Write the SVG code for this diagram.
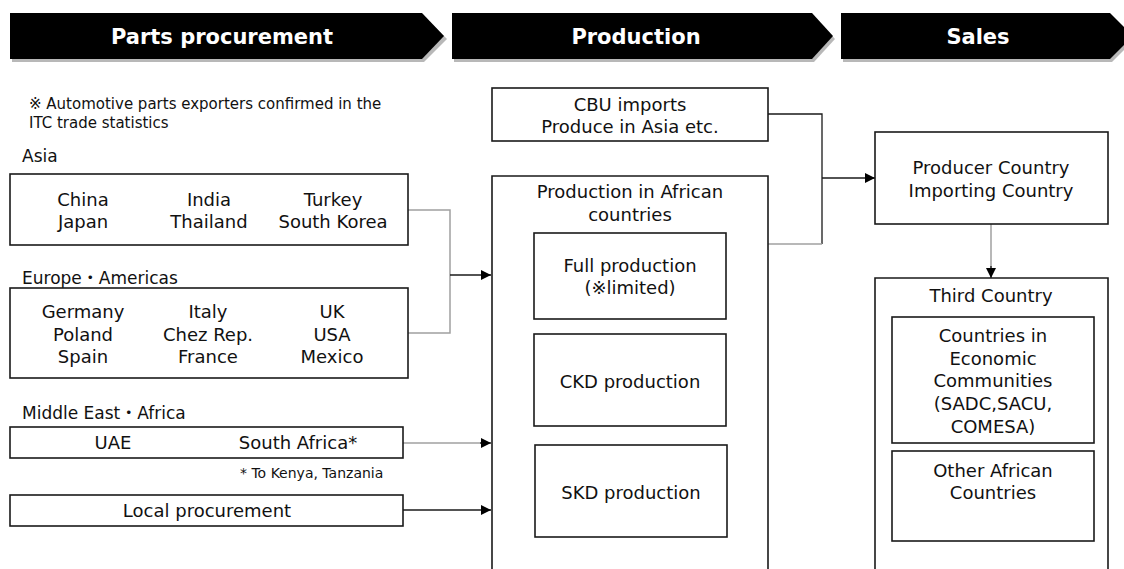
<svg xmlns="http://www.w3.org/2000/svg" width="1124" height="569" viewBox="0 0 1124 569">
  <style>
    .band { fill: #000; }
    .band-shadow { fill: #9a9a9a; opacity: 0.7; }
    .band-text { font-family: "DejaVu Sans", "Noto Sans CJK JP", sans-serif; font-weight: bold; font-size: 21px; fill: #fff; text-anchor: middle; }
    .box { fill: #fff; stroke: #1a1a1a; stroke-width: 1.6; }
    .t { font-family: "DejaVu Sans", "Noto Sans CJK JP", sans-serif; font-size: 18px; fill: #111; text-anchor: middle; }
    .lbl { font-family: "DejaVu Sans", "Noto Sans CJK JP", sans-serif; font-size: 17px; fill: #111; }
    .note { font-family: "DejaVu Sans", "Noto Sans CJK JP", sans-serif; font-size: 15px; fill: #111; }
    .small { font-family: "DejaVu Sans", "Noto Sans CJK JP", sans-serif; font-size: 14px; fill: #111; }
    .wire-gray { fill: none; stroke: #a0a0a0; stroke-width: 1.5; }
    .wire-dark { fill: none; stroke: #1a1a1a; stroke-width: 1.3; }
  </style>
  <defs>
    <marker id="head" viewBox="0 0 10 10" refX="10" refY="5" markerWidth="10" markerHeight="10" markerUnits="userSpaceOnUse" orient="auto">
      <path d="M0,0 L10,5 L0,10 Z" fill="#000"/>
    </marker>
  </defs>

  <rect width="1124" height="569" fill="#fff"/>

  <!-- stage banners -->
  <g id="band-parts">
    <polygon class="band-shadow" points="12,16 424,16 447,39 424,62 12,62"/>
    <polygon class="band" points="10,13 422,13 444,36 422,59 10,59"/>
    <text class="band-text" x="222" y="44">Parts procurement</text>
  </g>
  <g id="band-production">
    <polygon class="band-shadow" points="454,16 814,16 835,39 814,62 454,62"/>
    <polygon class="band" points="452,13 812,13 833,36 812,59 452,59"/>
    <text class="band-text" x="636" y="44">Production</text>
  </g>
  <g id="band-sales">
    <polygon class="band-shadow" points="843,16 1112,16 1135,39 1112,62 843,62"/>
    <polygon class="band" points="841,13 1110,13 1133,36 1110,59 841,59"/>
    <text class="band-text" x="978" y="44">Sales</text>
  </g>

  <!-- note -->
  <g id="note">
    <text class="note" x="29" y="109">※ Automotive parts exporters confirmed in the</text>
    <text class="note" x="29" y="128">ITC trade statistics</text>
  </g>

  <!-- connectors -->
  <g id="connectors">
    <path class="wire-gray" d="M408,210 H450 V333 H408"/>
    <path class="wire-dark" d="M450,275 H491" marker-end="url(#head)"/>
    <path class="wire-gray" d="M403,443 H482"/>
    <path class="wire-dark" d="M480,443 H491" marker-end="url(#head)"/>
    <path class="wire-dark" d="M403,510 H491" marker-end="url(#head)"/>
    <path class="wire-dark" d="M768,114 H822 V244"/>
    <path class="wire-gray" d="M768,244 H822"/>
    <path class="wire-dark" d="M822,178 H875" marker-end="url(#head)"/>
    <path class="wire-gray" d="M991,224 V270"/>
    <path class="wire-dark" d="M991,266 V278" marker-end="url(#head)"/>
  </g>

  <!-- Asia -->
  <g id="asia">
    <text class="lbl" x="22" y="162">Asia</text>
    <rect class="box" x="10" y="174" width="398" height="71"/>
    <text class="t" x="83" y="206">China</text>
    <text class="t" x="83" y="228">Japan</text>
    <text class="t" x="209" y="206">India</text>
    <text class="t" x="209" y="228">Thailand</text>
    <text class="t" x="333" y="206">Turkey</text>
    <text class="t" x="333" y="228">South Korea</text>
  </g>

  <!-- Europe / Americas -->
  <g id="europe-americas">
    <text class="lbl" x="22" y="284">Europe・Americas</text>
    <rect class="box" x="10" y="288" width="398" height="90"/>
    <text class="t" x="83" y="318">Germany</text>
    <text class="t" x="83" y="341">Poland</text>
    <text class="t" x="83" y="363">Spain</text>
    <text class="t" x="208" y="318">Italy</text>
    <text class="t" x="208" y="341">Chez Rep.</text>
    <text class="t" x="208" y="363">France</text>
    <text class="t" x="332" y="318">UK</text>
    <text class="t" x="332" y="341">USA</text>
    <text class="t" x="332" y="363">Mexico</text>
  </g>

  <!-- Middle East / Africa -->
  <g id="middle-east-africa">
    <text class="lbl" x="22" y="419">Middle East・Africa</text>
    <rect class="box" x="10" y="427" width="393" height="31"/>
    <text class="t" x="113" y="449">UAE</text>
    <text class="t" x="298" y="449">South Africa*</text>
    <text class="small" x="240" y="478">* To Kenya, Tanzania</text>
  </g>

  <!-- Local procurement -->
  <g id="local-procurement">
    <rect class="box" x="10" y="495" width="393" height="31"/>
    <text class="t" x="207" y="517">Local procurement</text>
  </g>

  <!-- CBU imports -->
  <g id="cbu-imports">
    <rect class="box" x="492" y="88" width="276" height="53"/>
    <text class="t" x="630" y="111">CBU imports</text>
    <text class="t" x="630" y="133">Produce in Asia etc.</text>
  </g>

  <!-- Production in African countries -->
  <g id="african-production">
    <path class="box" d="M492,580 V176 H768 V580"/>
    <text class="t" x="630" y="198">Production in African</text>
    <text class="t" x="630" y="221">countries</text>
  </g>
  <g id="full-production">
    <rect class="box" x="534" y="233" width="192" height="86"/>
    <text class="t" x="630" y="272">Full production</text>
    <text class="t" x="630" y="294">(※limited)</text>
  </g>
  <g id="ckd-production">
    <rect class="box" x="534" y="334" width="192" height="92"/>
    <text class="t" x="630" y="388">CKD production</text>
  </g>
  <g id="skd-production">
    <rect class="box" x="535" y="445" width="192" height="92"/>
    <text class="t" x="631" y="499">SKD production</text>
  </g>

  <!-- Sales side -->
  <g id="producer-country">
    <rect class="box" x="875" y="132" width="233" height="92"/>
    <text class="t" x="991" y="174">Producer Country</text>
    <text class="t" x="991" y="197">Importing Country</text>
  </g>
  <g id="third-country">
    <path class="box" d="M875,580 V278 H1108 V580"/>
    <text class="t" x="991" y="302">Third Country</text>
  </g>
  <g id="economic-communities">
    <rect class="box" x="892" y="317" width="202" height="126"/>
    <text class="t" x="993" y="342">Countries in</text>
    <text class="t" x="993" y="365">Economic</text>
    <text class="t" x="993" y="387">Communities</text>
    <text class="t" x="993" y="410">(SADC,SACU,</text>
    <text class="t" x="993" y="433">COMESA)</text>
  </g>
  <g id="other-african">
    <rect class="box" x="892" y="451" width="202" height="90"/>
    <text class="t" x="993" y="477">Other African</text>
    <text class="t" x="993" y="499">Countries</text>
  </g>
</svg>
